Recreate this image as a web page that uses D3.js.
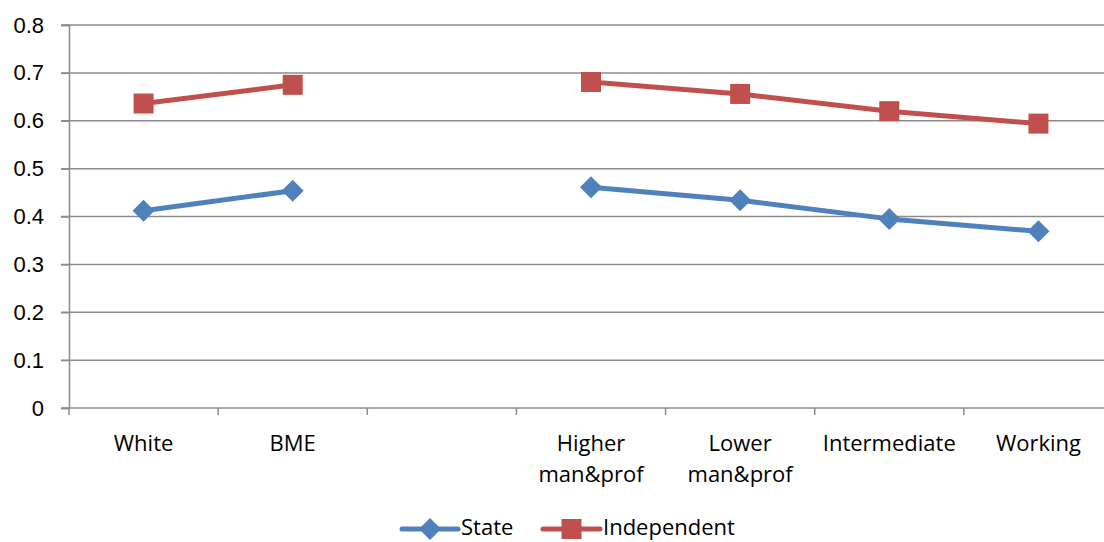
<!DOCTYPE html>
<html>
<head>
<meta charset="utf-8">
<script src="https://cdn.jsdelivr.net/npm/d3@7"></script>
<style>
  body { margin: 0; background: #fff; }
  svg { display: block; font-family: "Open Sans", "Noto Sans", sans-serif; }
</style>
</head>
<body>
<svg id="chart" width="1104" height="542"></svg>
<script>
"use strict";

// categories (blank slot separates ethnicity from class groups)
const categories = ["White", "BME", "", "Higher\nman&prof", "Lower\nman&prof", "Intermediate", "Working"];
const stateValues = [0.412, 0.454, null, 0.461, 0.434, 0.395, 0.369];
const independentValues = [0.636, 0.675, null, 0.681, 0.656, 0.620, 0.594];
const yTicks = [0, 0.1, 0.2, 0.3, 0.4, 0.5, 0.6, 0.7, 0.8];

const series = [
  { name: "State", values: stateValues, color: "#4F81BD", marker: "diamond" },
  { name: "Independent", values: independentValues, color: "#C0504D", marker: "square" }
];

const svg = d3.select("#chart");
const plotLeft = 69, plotRight = 1113, plotTop = 25, plotBottom = 408;
const fontSize = 22;

const x = d3.scaleBand().domain(d3.range(categories.length)).range([plotLeft, plotRight]);
const y = d3.scaleLinear().domain([0, 0.8]).range([plotBottom, plotTop]);

// gridlines
svg.append("g")
  .selectAll("line")
  .data(yTicks)
  .join("line")
  .attr("x1", plotLeft - 8).attr("x2", 1104)
  .attr("y1", d => y(d)).attr("y2", d => y(d))
  .attr("stroke", "#8c8c8c").attr("stroke-width", 1.5);

// y axis
const yAxis = svg.append("g").attr("transform", `translate(${plotLeft},0)`)
  .call(d3.axisLeft(y).tickValues(yTicks).tickSize(8).tickFormat(d => d === 0 ? "0" : d3.format(".1f")(d)));
yAxis.select(".domain").attr("stroke", "#8c8c8c").attr("stroke-width", 1.5);
yAxis.selectAll(".tick line").attr("stroke", "#8c8c8c").attr("stroke-width", 1.5);
yAxis.selectAll(".tick text").attr("font-size", fontSize).attr("fill", "#000").attr("x", -25).attr("font-family", "inherit");

// x axis ticks at band boundaries
svg.append("g")
  .selectAll("line")
  .data(d3.range(categories.length + 1))
  .join("line")
  .attr("x1", d => plotLeft + d * x.step()).attr("x2", d => plotLeft + d * x.step())
  .attr("y1", plotBottom).attr("y2", plotBottom + 7)
  .attr("stroke", "#8c8c8c").attr("stroke-width", 1.5);

// x labels
svg.append("g")
  .selectAll("text")
  .data(categories)
  .join("text")
  .attr("text-anchor", "middle")
  .attr("font-size", fontSize)
  .attr("fill", "#000")
  .each(function (d, i) {
    const t = d3.select(this);
    d.split("\n").forEach((line, k) => {
      t.append("tspan")
        .attr("x", x(i) + x.bandwidth() / 2)
        .attr("y", 451 + k * 31)
        .text(line);
    });
  });

const cx = i => x(i) + x.bandwidth() / 2;

function drawMarker(g, type, px, py, color) {
  if (type === "diamond") {
    g.append("path")
      .attr("d", `M${px},${py - 11}L${px + 11},${py}L${px},${py + 11}L${px - 11},${py}Z`)
      .attr("fill", color);
  } else {
    g.append("rect")
      .attr("x", px - 10).attr("y", py - 10)
      .attr("width", 20).attr("height", 20)
      .attr("fill", color);
  }
}

const line = d3.line()
  .defined(d => d.v !== null)
  .x(d => cx(d.i))
  .y(d => y(d.v));

series.forEach(s => {
  const pts = s.values.map((v, i) => ({ v, i }));
  const g = svg.append("g");
  g.append("path")
    .datum(pts)
    .attr("d", line)
    .attr("fill", "none")
    .attr("stroke", s.color)
    .attr("stroke-width", 5)
    .attr("stroke-linejoin", "round");
  pts.filter(p => p.v !== null).forEach(p => drawMarker(g, s.marker, cx(p.i), y(p.v), s.color));
});

// legend
const legendPos = [{ x1: 402, x2: 458, tx: 461 }, { x1: 543, x2: 600, tx: 603 }];
series.forEach((s, k) => {
  const g = svg.append("g");
  const lp = legendPos[k];
  g.append("line")
    .attr("x1", lp.x1).attr("x2", lp.x2)
    .attr("y1", 529).attr("y2", 529)
    .attr("stroke", s.color).attr("stroke-width", 5).attr("stroke-linecap", "round");
  drawMarker(g, s.marker, (lp.x1 + lp.x2) / 2, 529, s.color);
  g.append("text")
    .attr("x", lp.tx).attr("y", 535)
    .attr("font-size", fontSize).attr("fill", "#000")
    .text(s.name);
});
</script>
</body>
</html>
